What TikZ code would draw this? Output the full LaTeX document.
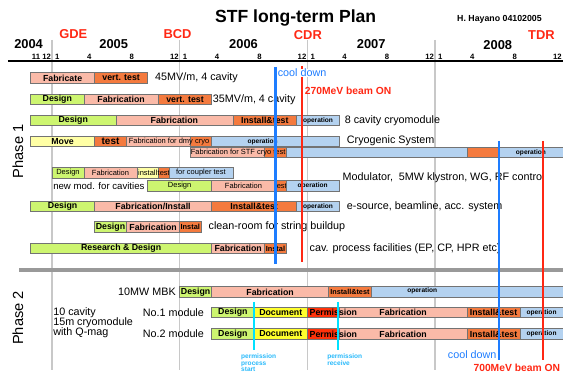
\documentclass[tikz,border=0pt]{standalone}
\usepackage{fontspec}
\setmainfont{Liberation Sans}

\definecolor{dsgn}{RGB}{205,245,112}
\definecolor{fabr}{RGB}{250,186,168}
\definecolor{inst}{RGB}{244,122,62}
\definecolor{oper}{RGB}{180,210,240}
\definecolor{move}{RGB}{255,255,165}
\definecolor{docu}{RGB}{255,255,45}
\definecolor{perm}{RGB}{255,50,10}
\definecolor{msred}{RGB}{255,40,20}
\definecolor{msblue}{RGB}{30,125,255}
\definecolor{pcyan}{RGB}{0,225,255}
\definecolor{ptxt}{RGB}{40,185,250}
\definecolor{yrgray}{RGB}{200,200,200}

% one bar of the plan: [label opts]{from}{to}{row}{colour}{label}
\newcounter{barno}
\newcommand{\gtask}[6][]{%
  \stepcounter{barno}%
  \draw[taskbox,fill=#5] (#2,#4-5.3) rectangle (#3,#4+5.3);
  \node[tasklbl,#1] (bar\arabic{barno}) at ({(#2+#3)/2},#4) {#6};}

\begin{document}
\begin{tikzpicture}[x=0.3192cm, y=-0.03cm,
	taskbox/.style={draw=black!55, line width=0.5pt},
	tasklbl/.style={font=\bfseries\fontsize{7.5}{8}\selectfont, inner sep=0},
	smalllbl/.style={font=\bfseries\fontsize{5.6}{6}\selectfont},
	midlbl/.style={font=\fontsize{6.4}{7}\selectfont},
	desc/.style={font=\fontsize{9.2}{10}\selectfont, inner sep=0, anchor=west},
	monlbl/.style={font=\bfseries\fontsize{6.6}{7}\selectfont, inner sep=0},
	yearlbl/.style={font=\bfseries\fontsize{11}{12}\selectfont, inner sep=0},
	milelbl/.style={font=\bfseries\fontsize{11}{12}\selectfont, text=msred, inner sep=0},
	yearline/.style={yrgray, line width=1.2pt},
	permtxt/.style={font=\bfseries\fontsize{5.6}{5.6}\selectfont, text=ptxt, align=left, inner sep=0, anchor=north west}]
		\useasboundingbox (-4.887,0) rectangle (48.03,374);
		
		%time axis
		\foreach \yr in {0, 12, 24, 36}{
			\draw[yearline] (\yr,40)--(\yr,370);
			\node[monlbl] (ma\yr) at (\yr+0.5,56.5){1};
			\node[monlbl] (mb\yr) at (\yr+3.5,56.5){4};
			\node[monlbl] (mc\yr) at (\yr+7.5,56.5){8};
			\node[monlbl] (md\yr) at (\yr+11.5,56.5){12};
		}
		\node[monlbl] (mnov) at (-1.5,56.5){11};
		\node[monlbl] (mdec) at (-0.5,56.5){12};
		\draw[line width=1.5pt] (-4.14,61) -- (48.03,61);
		\draw[line width=3.4pt, black!40] (-3.1,270) -- (48.03,270);
		
		\node[yearlbl] (y2004) at (-2.2,44){2004};
		\node[yearlbl] (y2005) at (5.8,44){2005};
		\node[yearlbl] (y2006) at (18,44){2006};
		\node[yearlbl] (y2007) at (30,44){2007};
		\node[yearlbl] (y2008) at (41.9,45){2008};
		
		\node[milelbl] (gde) at (2,34.5){GDE};
		\node[milelbl] (bcd) at (11.8,34.5){BCD};
		\node[milelbl] (cdr) at (24.05,35){CDR};
		\node[milelbl] (tdr) at (46,35){TDR};
		
		\node[font=\bfseries\fontsize{15}{16}\selectfont, inner sep=0] (title) at (22.9,18){STF long-term Plan};
		\node[font=\bfseries\fontsize{7.5}{8}\selectfont, inner sep=0] (author) at (42.06,19){H. Hayano 04102005};
		
		\node[font=\fontsize{12.5}{13}\selectfont, rotate=90, inner sep=0] (ph1) at (-3.2,151.5){Phase 1};
		\node[font=\fontsize{12.5}{13}\selectfont, rotate=90, inner sep=0] (ph2) at (-3.2,318){Phase 2};
		
		%phase 1
		\gtask{-2}{4}{78}{fabr}{Fabricate}
		\gtask{4}{9}{78}{inst}{vert. test}
		\node[desc] (d1) at (9.68,78){45MV/m, 4 cavity};
		
		\gtask{-2}{3}{99.5}{dsgn}{Design}
		\gtask{3}{10}{99.5}{fabr}{Fabrication}
		\gtask{10}{15}{99.5}{inst}{vert. test}
		\node[desc] (d2) at (15.1,99.5){35MV/m, 4 cavity};
		
		\gtask{-2}{6}{120.5}{dsgn}{Design}
		\gtask{6}{17}{120.5}{fabr}{Fabrication}
		\gtask{17}{23}{120.5}{inst}{Install\&test}
		\gtask[smalllbl]{23}{27}{120.5}{oper}{operation}
		\node[desc] (d3) at (27.5,120.5){8 cavity cryomodule};
		
		\gtask{-2}{4}{141.5}{move}{Move}
		\gtask[font=\bfseries\fontsize{8.5}{9}\selectfont]{4}{7}{141.5}{inst}{test}
		\gtask{7}{13}{141.5}{fabr}{}
		\gtask{13}{15}{141.5}{inst}{}
		\gtask{15}{27}{141.5}{oper}{}
		\node[tasklbl,midlbl] (dmy) at (11,141.5){Fabrication for dmy cryo};
		\node[tasklbl,smalllbl] (op4) at (19.8,141.5){operation};
		\node[desc] (d4) at (27.7,141){Cryogenic System};
		
		\gtask{13}{20}{152.5}{fabr}{}
		\gtask{20}{22}{152.5}{inst}{}
		\gtask{22}{39}{152.5}{oper}{}
		\gtask{39}{42}{152.5}{inst}{}
		\gtask[smalllbl]{42}{48.03}{152.5}{oper}{operation}
		\node[tasklbl,midlbl] (stf) at (17.5,152.5){Fabrication for STF cryo test};
		
		\gtask[midlbl]{0}{3}{173}{dsgn}{Design}
		\gtask[midlbl]{3}{8}{173}{fabr}{Fabrication}
		\gtask[midlbl]{8}{10}{173}{move}{install}
		\gtask[midlbl]{10}{11}{173}{inst}{test}
		\gtask[midlbl]{11}{17}{173}{oper}{for coupler test}
		
		\node[desc,font=\fontsize{8.2}{9}\selectfont] (d6) at (0.1,186){new mod. for cavities};
		\gtask[midlbl]{9}{15}{186}{dsgn}{Design}
		\gtask[midlbl]{15}{21}{186}{fabr}{Fabrication}
		\gtask[midlbl]{21}{22}{186}{inst}{test}
		\gtask[smalllbl]{22}{27}{186}{oper}{operation}
		\node[desc] (d7) at (27.3,178){Modulator,\ \ 5MW klystron, WG, RF control};
		
		\gtask{-2}{4}{206.5}{dsgn}{Design}
		\gtask{4}{15}{206.5}{fabr}{Fabrication/Install}
		\gtask{15}{23}{206.5}{inst}{Install\&test}
		\gtask[smalllbl]{23}{27}{206.5}{oper}{operation}
		\node[desc] (d8) at (27.7,206.5){e-source, beamline, acc. system};
		
		\gtask{4}{7}{227}{dsgn}{Design}
		\gtask{7}{12}{227}{fabr}{Fabrication}
		\gtask[font=\bfseries\fontsize{6.3}{7}\selectfont]{12}{14}{227}{inst}{Instal}
		\node[desc] (d9) at (14.7,227){clean-room for string buildup};
		
		\gtask{-2}{15}{248.5}{dsgn}{Research \& Design}
		\gtask{15}{20}{248.5}{fabr}{Fabrication}
		\gtask[font=\bfseries\fontsize{6.3}{7}\selectfont]{20}{22}{248.5}{inst}{Instal}
		\node[desc] (d10) at (24.2,248.5){cav. process facilities (EP, CP, HPR etc)};
		
		%phase 2
		\node[desc,anchor=east] (mbk) at (11.65,292){10MW MBK};
		\gtask{12}{15}{292}{dsgn}{Design}
		\gtask{15}{26}{292}{fabr}{Fabrication}
		\gtask[font=\bfseries\fontsize{6.2}{7}\selectfont]{26}{30}{292}{inst}{Install\&test}
		\gtask{30}{48.03}{292}{oper}{}
		\node[tasklbl,smalllbl] (op11) at (34.8,291){operation};
		
		\node[desc,anchor=north west,align=left,font=\fontsize{9.2}{8.8}\selectfont] (cav10) at (0.1,307){10 cavity\\15m cryomodule\\with Q-mag};
		\foreach \r/\ry in {1/312.5, 2/334}{
			\node[desc,anchor=east] (mod\r) at (14.3,\ry){No.\r\ module};
			\gtask{15}{19}{\ry}{dsgn}{Design}
			\gtask{19}{24}{\ry}{docu}{Document}
			\gtask{24}{27}{\ry}{perm}{}
			\gtask{27}{39}{\ry}{fabr}{Fabrication}
			\gtask{39}{44}{\ry}{inst}{Install\&test}
			\gtask[smalllbl]{44}{48.03}{\ry}{oper}{operation}
			\node[tasklbl,anchor=west] (perm\r) at (24.2,\ry){Permission};
		}
		
		%milestones
		\draw[msblue, line width=2pt] (21,67)--(21,264);
		\draw[msred, line width=2pt] (23.5,66)--(23.5,262);
		\draw[msblue, line width=2pt] (42,141)--(42,360);
		\draw[msred, line width=2pt] (46.15,141)--(46.15,360);
		\draw[pcyan, line width=1.5pt] (19,302)--(19,350);
		\draw[pcyan, line width=1.5pt] (26.9,302)--(26.9,350);
		\node[desc, text=msblue, fill=white] (cool1) at (21.2,73){cool down};
		\node[desc, text=msred, font=\bfseries\fontsize{8.8}{9}\selectfont] (beam1) at (23.75,91){270MeV beam ON};
		\node[desc, text=msblue, anchor=east] (cool2) at (41.8,355){cool down};
		\node[desc, text=msred, font=\bfseries\fontsize{8.8}{9}\selectfont] (beam2) at (39.6,367.5){700MeV beam ON};
		\node[permtxt] (pstart) at (17.76,353.5){permission\\process\\start};
		\node[permtxt] (precv) at (25.85,353.5){permission\\receive};
\end{tikzpicture}
\end{document}
